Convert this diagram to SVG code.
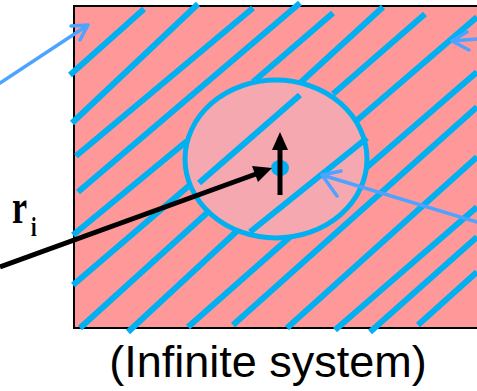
<svg xmlns="http://www.w3.org/2000/svg" width="477" height="391" viewBox="0 0 477 391">
<defs>
<style>
.h{stroke:#00B0F0;stroke-width:6;fill:none}
.ba{stroke:#4DA3FF;stroke-width:3.5;fill:none;stroke-linecap:round;stroke-linejoin:round}
.k{stroke:#000;stroke-width:5;fill:none}
.rb{font-family:"Liberation Serif","Times New Roman",serif;font-weight:bold}
</style>
</defs>
<g id="system">
<rect x="74" y="6" width="410" height="322" fill="#FF9999" stroke="#000" stroke-width="2"/>
<g id="hatch-outside">
<line class="h" x1="70" y1="75" x2="144" y2="9"/>
<line class="h" x1="72" y1="123" x2="198" y2="4"/>
<line class="h" x1="76" y1="156" x2="253" y2="8"/>
<line class="h" x1="78" y1="192" x2="300" y2="3"/>
<line class="h" x1="73" y1="235" x2="187" y2="141"/>
<line class="h" x1="253" y1="82" x2="333" y2="13"/>
<line class="h" x1="73" y1="285" x2="191" y2="184"/>
<line class="h" x1="300" y1="83" x2="383" y2="7"/>
<line class="h" x1="80" y1="328" x2="208" y2="212"/>
<line class="h" x1="333" y1="94" x2="425" y2="14"/>
<line class="h" x1="128" y1="332" x2="237" y2="231"/>
<line class="h" x1="355" y1="122" x2="477" y2="17"/>
<line class="h" x1="188" y1="327" x2="290" y2="237"/>
<line class="h" x1="366" y1="168" x2="477" y2="72"/>
<line class="h" x1="233" y1="325" x2="477" y2="107"/>
<line class="h" x1="287" y1="328" x2="477" y2="157"/>
<line class="h" x1="335" y1="330" x2="477" y2="207"/>
<line class="h" x1="370" y1="332" x2="477" y2="237"/>
<line class="h" x1="418" y1="325" x2="477" y2="272"/>
</g>
</g>
<g id="region">
<ellipse cx="276" cy="159" rx="91" ry="79" fill="#F5A8AF" stroke="#00B0F0" stroke-width="5"/>
<line class="h" x1="199" y1="183" x2="300" y2="95"/>
<line class="h" x1="250" y1="232" x2="367" y2="138"/>
<ellipse cx="280" cy="168" rx="9" ry="8" fill="#00B0F0"/>
</g>
<g id="connectors">
<line class="k" x1="0" y1="267" x2="256" y2="174"/>
<polygon points="272,168 252,166 258,182" fill="#000"/>
<line class="k" x1="280" y1="195" x2="280" y2="148"/>
<polygon points="280,132 272,150 288,150" fill="#000"/>
<path class="ba" d="M0,83 L88,25 M71,26 L88,25 L80,40"/>
<path class="ba" d="M477,39 L452,41 M467,32 L452,41 L469,50"/>
<path class="ba" d="M477,222 L322,175 M341,171 L322,175 L337,196"/>
</g>
<g id="labels">
<text class="rb" transform="translate(12,223) scale(1,1.4)" font-size="34">r</text>
<text class="rb" transform="translate(31,236) scale(1,1.35)" font-size="20">i</text>
<text x="268" y="377" text-anchor="middle" font-family="Liberation Sans, Arial, sans-serif" font-size="45">(Infinite system)</text>
</g>
</svg>
